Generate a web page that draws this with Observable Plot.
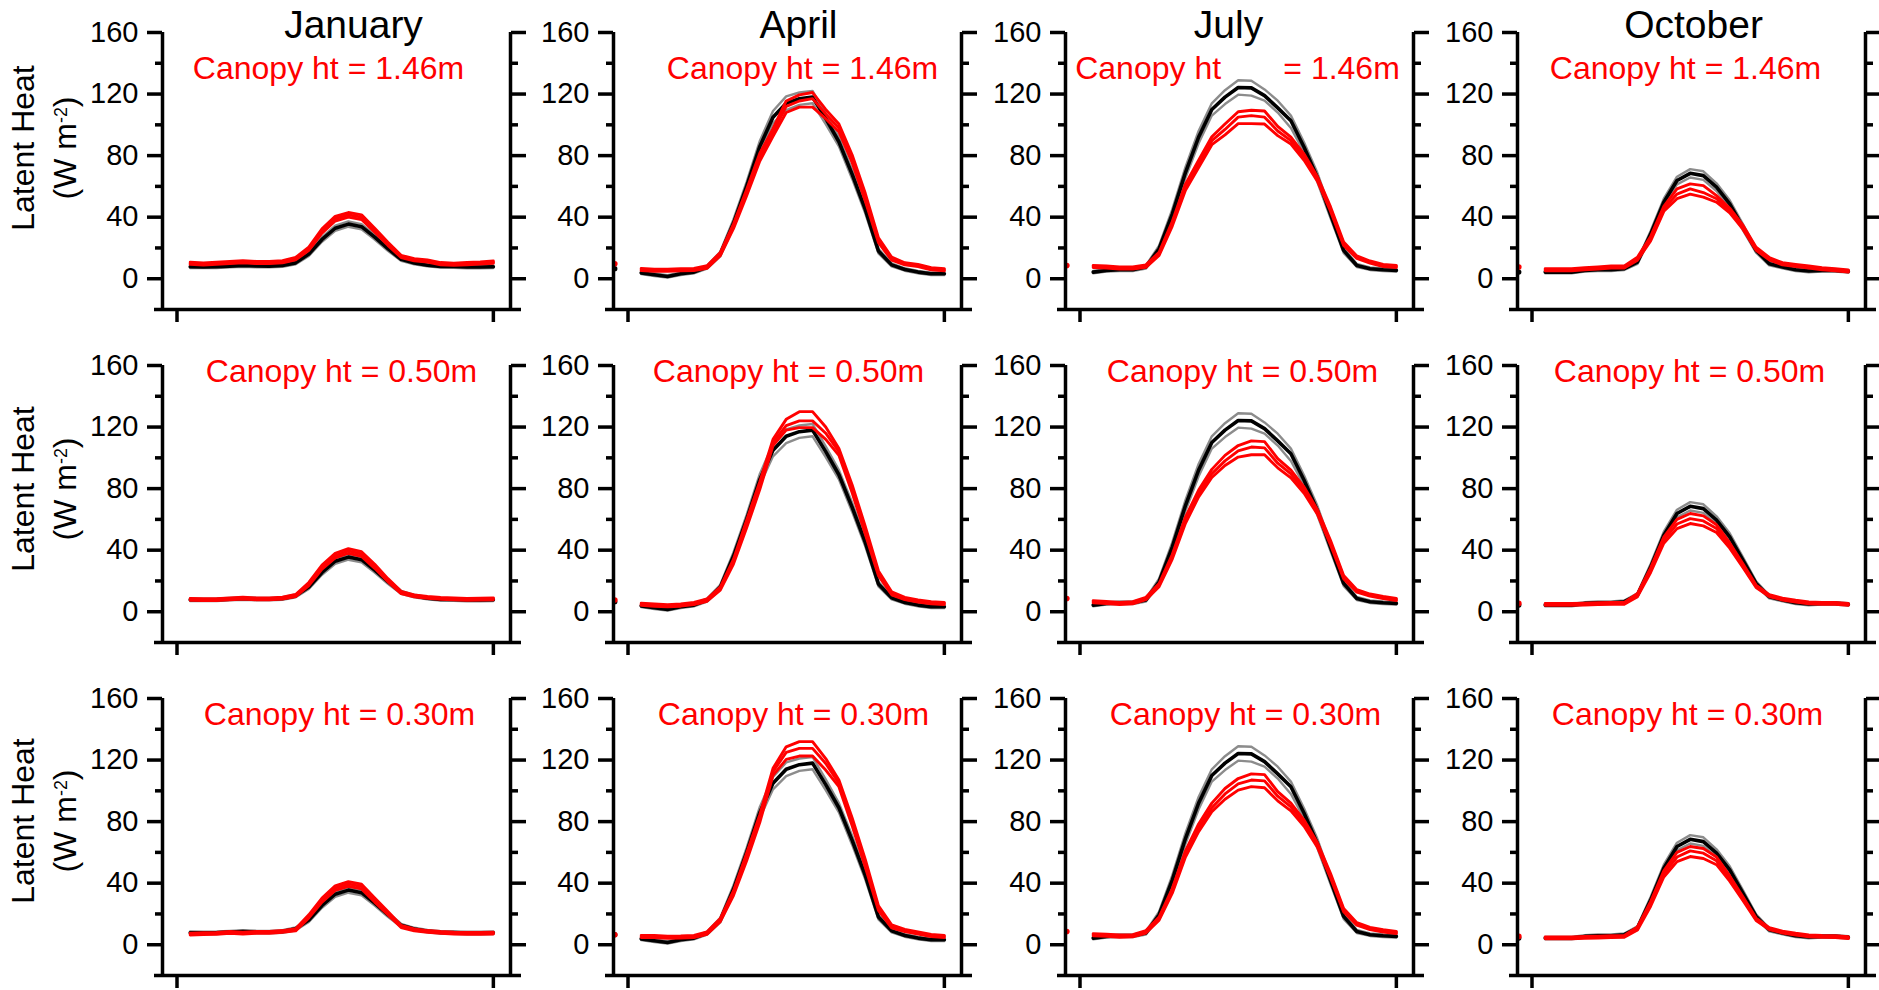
<!DOCTYPE html>
<html>
<head>
<meta charset="utf-8">
<script src="https://cdn.jsdelivr.net/npm/d3@7"></script>
<script src="https://cdn.jsdelivr.net/npm/@observablehq/plot@0.6"></script>
<style>
html, body { margin: 0; padding: 0; background: #fff; overflow: hidden; }
#chart { position: relative; width: 1879px; height: 990px; background: #fff; font-family: "Liberation Sans", Arial, sans-serif; }
.panel { position: absolute; }
.ylab { position: absolute; transform: translate(-50%, -50%) rotate(-90deg); white-space: nowrap; font-size: 32px; line-height: 1; color: #000; }
.ylab .sup { position: relative; top: -0.5em; font-size: 0.56em; }
</style>
</head>
<body>
<div id="chart"></div>
<script>
// ---------------- data ----------------
const months = ["January", "April", "July", "October"];
const canopyLabels = [
  ["Canopy ht = 1.46m", "Canopy ht = 1.46m", "Canopy ht\u00a0\u00a0\u00a0\u00a0\u00a0\u00a0 = 1.46m", "Canopy ht = 1.46m"],
  ["Canopy ht = 0.50m", "Canopy ht = 0.50m", "Canopy ht = 0.50m", "Canopy ht = 0.50m"],
  ["Canopy ht = 0.30m", "Canopy ht = 0.30m", "Canopy ht = 0.30m", "Canopy ht = 0.30m"]
];
const yLabelLine1 = "Latent Heat";
const yLabelLine2 = "(W m";
const yLabelSup = "-2";
const yLabelEnd = ")";
const hours = [1,2,3,4,5,6,7,8,9,10,11,12,13,14,15,16,17,18,19,20,21,22,23,24];
const yMajorTicks = [0, 40, 80, 120, 160];
const yMinorTicks = [20, 60, 100, 140];
const xTicks = [0, 24];

// reference (black) curves, one set per month: mean and its two bounds
const janBlackMean = [7.8,7.7,7.8,8.2,8.6,8.3,8.2,8.6,10.3,16,25.5,32.8,35.5,33.8,27,19.5,12.6,10.2,8.8,8,7.9,7.6,7.6,7.8];
const janBlackHi   = [8.6,8.5,8.6,9,9.4,9.1,9,9.4,11.2,17.2,27,34.5,37.2,35.5,28.6,20.8,13.6,11,9.6,8.8,8.7,8.4,8.4,8.6];
const janBlackLo   = [7,6.9,7,7.4,7.8,7.5,7.4,7.8,9.4,14.8,24,31.1,33.8,32.1,25.4,18.2,11.6,9.4,8,7.2,7.1,6.8,6.8,7];

const aprBlackMean = [3.8,2.6,1.5,3.2,4.3,7.5,16,36,60,86,105,114,117,118,104,89,68,45,18,9,6,4.3,3.2,3.2];
const aprBlackHi   = [4.6,3.4,2.3,4,5.1,8.5,17.5,38.5,63,89.5,109,118.5,121,122,107.5,92,71,47.5,19.5,10,6.8,5.1,4,4];
const aprBlackLo   = [3,1.8,0.7,2.4,3.5,6.5,14.5,33.5,57,82.5,101,109.5,113,114,100.5,86,65,42.5,16.5,8,5.2,3.5,2.4,2.4];

const julBlackMean = [4.3,5.4,5.8,5.8,7.6,19.5,42,69,92,110,118,124.3,124,119,111,102.7,85.4,66,42,18.4,8.6,6.5,5.8,5.4];
const julBlackHi   = [5.1,6.2,6.6,6.6,8.6,21.5,45,72.5,96,114,122.5,129,128.6,123,115.7,106,88.5,69,44.5,20,9.6,7.3,6.6,6.2];
const julBlackLo   = [3.5,4.6,5,5,6.6,17.5,39,65.5,88,106,113.5,119.6,119,115.7,108,98,82,63,39.5,16.8,7.6,5.7,5,4.6];

const octBlackMean = [4.3,4.3,4.3,5.4,5.8,5.8,6.5,10.8,29,49.7,63.8,68.5,67,59.5,48.6,33.5,18.4,9.7,7.6,5.8,5,5.4,5.4,4.8];
const octBlackHi   = [5.1,5.1,5.1,6.2,6.6,6.6,7.3,12,31,52,66.3,71.2,69.8,62,51,35.5,19.8,10.7,8.4,6.6,5.8,6.2,6.2,5.6];
const octBlackLo   = [3.5,3.5,3.5,4.6,5,5,5.7,9.6,27,47.4,61.3,65.8,64.2,57,46.2,31.5,17,8.7,6.8,5,4.2,4.6,4.6,4];

// canopy (red) curves per panel: mean and its two bounds
const jan146Mean = [10,9.6,10,10.5,11,10.6,10.6,11,13,19.5,31,39,41.5,40,31.5,22.7,14.5,12.3,11.5,9.8,9.4,9.8,10.2,10.8];
const jan146Hi   = [10.7,10.3,10.7,11.2,11.7,11.3,11.3,11.7,13.8,20.6,32.4,40.5,43,41.5,32.8,23.7,15.2,13,12.2,10.5,10.1,10.5,10.9,11.5];
const jan146Lo   = [9.3,8.9,9.3,9.8,10.3,9.9,9.9,10.3,12.2,18.4,29.6,37.5,40,38.5,30.2,21.7,13.8,11.6,10.8,9.1,8.7,9.1,9.5,10.1];
const jan050Mean = [8,7.8,7.9,8.3,8.8,8.4,8.4,8.8,10.5,18,29,36.5,39.5,37.5,29.5,20.5,12.5,10.3,9.3,8.6,8.3,8.1,8.2,8.4];
const jan050Hi   = [8.6,8.4,8.5,8.9,9.4,9,9,9.4,11.2,19,30.3,38,41,39,30.8,21.5,13.2,10.9,9.9,9.2,8.9,8.7,8.8,9];
const jan050Lo   = [7.4,7.2,7.3,7.7,8.2,7.8,7.8,8.2,9.8,17,27.7,35,38,36,28.2,19.5,11.8,9.7,8.7,8,7.7,7.5,7.6,7.8];
const jan030Mean = [6.9,7.2,7.4,8,7.6,8,8,8.6,9.7,18.4,29,36.8,39.5,37.8,29,20.5,11.9,9.7,8.6,8,7.6,7.4,7.4,7.5];
const jan030Hi   = [7.5,7.8,8,8.6,8.2,8.6,8.6,9.2,10.4,19.4,30.3,38.3,41,39.3,30.3,21.5,12.6,10.3,9.2,8.6,8.2,8,8,8.1];
const jan030Lo   = [6.3,6.6,6.8,7.4,7,7.4,7.4,8,9,17.4,27.7,35.3,38,36.3,27.7,19.5,11.2,9.1,8,7.4,7,6.8,6.8,6.9];

const apr146Mean = [6,5.5,5.5,5.8,6,7.6,16,34,56,79,95,112,115.5,117,107,98,78,53,25,13,9.7,8.6,6.5,5.8];
const apr146Hi   = [6.7,6.2,6.2,6.5,6.7,8.4,17,35.5,58,81.5,97.5,115.5,119.5,121,110,100.5,80.5,55.5,26.5,14,10.4,9.3,7.2,6.5];
const apr146Lo   = [5.3,4.8,4.8,5.1,5.3,6.8,15,32.5,54,76.5,92.5,108,111.5,111.5,104,95.5,75.5,50.5,23.5,12,9,7.9,5.8,5.1];
const apr050Mean = [4.8,4.3,3.9,4.3,5.4,7.6,15,32.4,57,82,110,121,124,124,116,104,80,53,25,12,8.6,7,5.8,5.4];
const apr050Hi   = [5.5,5,4.6,5,6.1,8.4,16,34,59.5,84.5,112,125,130,130,120,106,82.5,55.5,26.5,13,9.3,7.7,6.5,6.1];
const apr050Lo   = [4.1,3.6,3.2,3.6,4.7,6.8,14,31,54.5,79.5,108,118,119.6,119.6,112,101.6,77.5,50.5,23.5,11,7.9,6.3,5.1,4.7];
const apr030Mean = [5.4,5.4,4.8,5,5.4,7.6,16,33.5,57,82,112.4,125,127.6,127.6,117.8,105,80,53,23.8,11.9,9.3,7.6,6,5.4];
const apr030Hi   = [6.1,6.1,5.5,5.7,6.1,8.4,17,35,59.5,84.5,114.6,128.6,132,132,121,107,82.5,55.5,25.3,12.9,10,8.3,6.7,6.1];
const apr030Lo   = [4.7,4.7,4.1,4.3,4.7,6.8,15,32,54.5,79.5,110,120.4,122.6,122.6,113.5,102.7,77.5,50.5,22.3,10.9,8.6,6.9,5.3,4.7];

const jul146Mean = [8,7.6,7,7,8.2,16.2,35.7,59.5,74.6,89.7,97,105,106,105,96,89.7,79,65,45.4,22.7,14,10.8,8.6,8];
const jul146Hi   = [8.7,8.3,7.7,7.7,9,17.2,37.2,61.5,77,92.3,100.5,108.5,109.5,109,99,92,81,66.5,46.8,23.8,14.8,11.5,9.3,8.7];
const jul146Lo   = [7.3,6.9,6.3,6.3,7.4,15.2,34.2,57.5,72.2,87.1,93.5,100.8,100.8,100.5,93,87.5,77,63.5,44,21.6,13.2,10.1,7.9,7.3];
const jul050Mean = [6.5,6,5.4,5.8,8.6,17.3,35.7,59.5,76.8,89.7,98,104.5,107,106.5,96.5,89.5,79,65,45,22.5,13.5,10.8,9.3,8];
const jul050Hi   = [7.2,6.7,6.1,6.5,9.4,18.3,37.2,61.5,79,92.5,101.6,108,111,110.5,99.5,92,81,66.5,46.4,23.6,14.3,11.5,10,8.7];
const jul050Lo   = [5.8,5.3,4.7,5.1,7.8,16.3,34.2,57.5,74.6,87.2,95,100.5,102,102,93.5,87,77,63.5,43.6,21.4,12.7,10.1,8.6,7.3];
const jul030Mean = [6.5,6.2,5.6,5.8,8.4,17,35,59,76,89,98,104.5,107,106.5,96.5,89.5,79,65,45,22.5,13.5,10.5,9,8];
const jul030Hi   = [7.2,6.9,6.3,6.5,9.2,18,36.5,61,78.5,92,101.5,108,111,110.5,99.5,92,81,66.5,46.4,23.6,14.3,11.2,9.7,8.7];
const jul030Lo   = [5.8,5.5,4.9,5.1,7.6,16,33.5,57,73.5,86.5,94.5,100.5,102.7,102,93.5,87,77,63.5,43.6,21.4,12.7,9.8,8.3,7.3];

const oct146Mean = [5.8,5.8,5.8,6.5,7,7.6,7.6,13,26,45.4,55,58.4,56,52,44.3,33.5,19.5,13,9.7,8.6,7.6,6.5,5.8,5];
const oct146Hi   = [6.5,6.5,6.5,7.2,7.7,8.3,8.3,14,27.5,47,58.4,61.6,60.5,54,45.8,34.8,20.5,13.8,10.4,9.3,8.3,7.2,6.5,5.7];
const oct146Lo   = [5.1,5.1,5.1,5.8,6.3,6.9,6.9,12,24.5,43.8,52,55,53,49.7,42.8,32.2,18.5,12.2,9,7.9,6.9,5.8,5.1,4.3];
const oct050Mean = [4.8,4.8,4.8,5,5.2,5.4,5.4,10.8,27,46.5,57,60.5,59,54,43,30,16.5,10.5,8.2,6.9,5.8,5.4,5.4,4.8];
const oct050Hi   = [5.4,5.4,5.4,5.6,5.8,6,6,11.8,28.5,48.5,60,63.8,62.3,56.5,44.7,31.2,17.3,11.1,8.8,7.5,6.4,6,6,5.4];
const oct050Lo   = [4.2,4.2,4.2,4.4,4.6,4.8,4.8,9.8,25.5,44.5,54,57.3,55.8,51.5,41.3,28.8,15.7,9.9,7.6,6.3,5.2,4.8,4.8,4.2];
const oct030Mean = [4.5,4.5,4.5,4.8,5,5.2,5.4,10.5,26.5,46,57,61,59.5,54.5,43,30,16.5,10.5,8.2,6.9,5.8,5.4,5.2,4.6];
const oct030Hi   = [5.1,5.1,5.1,5.4,5.6,5.8,6,11.5,28,48,60,63.8,62.5,57,44.7,31.2,17.3,11.1,8.8,7.5,6.4,6,5.8,5.2];
const oct030Lo   = [3.9,3.9,3.9,4.2,4.4,4.6,4.8,9.5,25,44,54,57.3,56,52,41.3,28.8,15.7,9.9,7.6,6.3,5.2,4.8,4.6,4];

// stray leading point (hour -1) visible at the left axis edge
const startHour = -1;
const blackStart = [null, 6.5, null, 4.3];
const redStart = [
  [null, 9.7, 8.6, 7.6],
  [null, 7.6, 8.6, 5.4],
  [null, 6.5, 8.6, 5.4]
];

// ---------------- assembly ----------------
const blackSets = [
  {mean: janBlackMean, hi: janBlackHi, lo: janBlackLo},
  {mean: aprBlackMean, hi: aprBlackHi, lo: aprBlackLo},
  {mean: julBlackMean, hi: julBlackHi, lo: julBlackLo},
  {mean: octBlackMean, hi: octBlackHi, lo: octBlackLo}
];
const redSets = [
  [{mean: jan146Mean, hi: jan146Hi, lo: jan146Lo}, {mean: apr146Mean, hi: apr146Hi, lo: apr146Lo},
   {mean: jul146Mean, hi: jul146Hi, lo: jul146Lo}, {mean: oct146Mean, hi: oct146Hi, lo: oct146Lo}],
  [{mean: jan050Mean, hi: jan050Hi, lo: jan050Lo}, {mean: apr050Mean, hi: apr050Hi, lo: apr050Lo},
   {mean: jul050Mean, hi: jul050Hi, lo: jul050Lo}, {mean: oct050Mean, hi: oct050Hi, lo: oct050Lo}],
  [{mean: jan030Mean, hi: jan030Hi, lo: jan030Lo}, {mean: apr030Mean, hi: apr030Hi, lo: apr030Lo},
   {mean: jul030Mean, hi: jul030Hi, lo: jul030Lo}, {mean: oct030Mean, hi: oct030Hi, lo: oct030Lo}]
];

// ---------------- layout ----------------
const FRAME_W = 348, FRAME_H = 277;
const colLeft = [162, 613, 1065, 1517];
const rowTop = [32, 365, 698];
const ML = 100, MR = 30, MT = 44, MB = 22;
const xDomain = [-1.1, 25.3];
const yDomain = [-20, 160];
const titleDx = [17, 11, -11, 2];
const labelDy = [46, 16, 26];
const labelDx = [[-8, 15, -2, -6], [5, 1, 3, -2], [3, 6, 6, -4]];
const yLabCenter = [148, 489, 821];
const FONT = "'Liberation Sans', Arial, Helvetica, sans-serif";

const chart = document.getElementById("chart");

function tidy(vals, key) {
  return hours.map((h, i) => ({h, v: vals[i], key}));
}

function makePanel(ri, ci) {
  const b = blackSets[ci];
  const r = redSets[ri][ci];
  const gray = [...tidy(b.hi, "hi"), ...tidy(b.lo, "lo")];
  const black = tidy(b.mean, "mean");
  const red = [...tidy(r.hi, "hi"), ...tidy(r.lo, "lo"), ...tidy(r.mean, "mean")];
  const marks = [
    Plot.line(gray, {x: "h", y: "v", z: "key", stroke: "#8c8c8c", strokeWidth: 2.4}),
    Plot.line(black, {x: "h", y: "v", stroke: "#000", strokeWidth: 3.6}),
    Plot.line(red, {x: "h", y: "v", z: "key", stroke: "#ff0000", strokeWidth: 2.9})
  ];
  if (blackStart[ci] != null)
    marks.push(Plot.dot([{h: startHour, v: blackStart[ci]}], {x: "h", y: "v", r: 2.6, fill: "#000", clip: true}));
  if (redStart[ri][ci] != null)
    marks.push(Plot.dot([{h: startHour, v: redStart[ri][ci]}], {x: "h", y: "v", r: 2.8, fill: "#ff0000", clip: true}));
  marks.push(
    Plot.ruleX([xDomain[0], xDomain[1]], {stroke: "#000", strokeWidth: 3.5}),
    Plot.ruleY([yDomain[0]], {stroke: "#000", strokeWidth: 3.5, insetLeft: -8, insetRight: -11}),
    Plot.axisY({anchor: "left", ticks: yMajorTicks, tickSize: 15, tickPadding: 9, fontSize: 29, strokeWidth: 3.5, stroke: "#000", fill: "#000", label: null}),
    Plot.axisY({anchor: "left", ticks: yMinorTicks, tickSize: 7, strokeWidth: 3.5, stroke: "#000", fill: "none", label: null}),
    Plot.axisY({anchor: "right", ticks: yMajorTicks, tickSize: 15, strokeWidth: 3.5, stroke: "#000", fill: "none", label: null}),
    Plot.axisY({anchor: "right", ticks: yMinorTicks, tickSize: 7, strokeWidth: 3.5, stroke: "#000", fill: "none", label: null}),
    Plot.axisX({anchor: "bottom", ticks: xTicks, tickSize: 13, strokeWidth: 3.5, stroke: "#000", fill: "none", label: null}),
    Plot.text([canopyLabels[ri][ci]], {text: d => d, frameAnchor: "top", lineAnchor: "bottom", dy: labelDy[ri], dx: labelDx[ri][ci], fill: "#ff0000", fontSize: 32})
  );
  if (ri === 0)
    marks.push(Plot.text([months[ci]], {text: d => d, frameAnchor: "top", lineAnchor: "bottom", dy: 5, dx: titleDx[ci], fill: "#000", fontSize: 39}));

  const svg = Plot.plot({
    width: ML + FRAME_W + MR,
    height: MT + FRAME_H + MB,
    marginLeft: ML, marginRight: MR, marginTop: MT, marginBottom: MB,
    x: {domain: xDomain},
    y: {domain: yDomain},
    style: `background: transparent; overflow: visible; font-family: ${FONT}; color: #000; max-width: none;`,
    marks
  });
  const div = document.createElement("div");
  div.className = "panel";
  div.style.left = (colLeft[ci] - ML) + "px";
  div.style.top = (rowTop[ri] - MT) + "px";
  div.appendChild(svg);
  chart.appendChild(div);
}

for (let ri = 0; ri < 3; ri++) {
  for (let ci = 0; ci < 4; ci++) makePanel(ri, ci);
  const l1 = document.createElement("div");
  l1.className = "ylab";
  l1.style.left = "22.5px";
  l1.style.top = yLabCenter[ri] + "px";
  l1.textContent = yLabelLine1;
  chart.appendChild(l1);
  const l2 = document.createElement("div");
  l2.className = "ylab";
  l2.style.left = "65px";
  l2.style.top = yLabCenter[ri] + "px";
  l2.appendChild(document.createTextNode(yLabelLine2));
  const s = document.createElement("span");
  s.className = "sup";
  s.textContent = yLabelSup;
  l2.appendChild(s);
  l2.appendChild(document.createTextNode(yLabelEnd));
  chart.appendChild(l2);
}
</script>
</body>
</html>
